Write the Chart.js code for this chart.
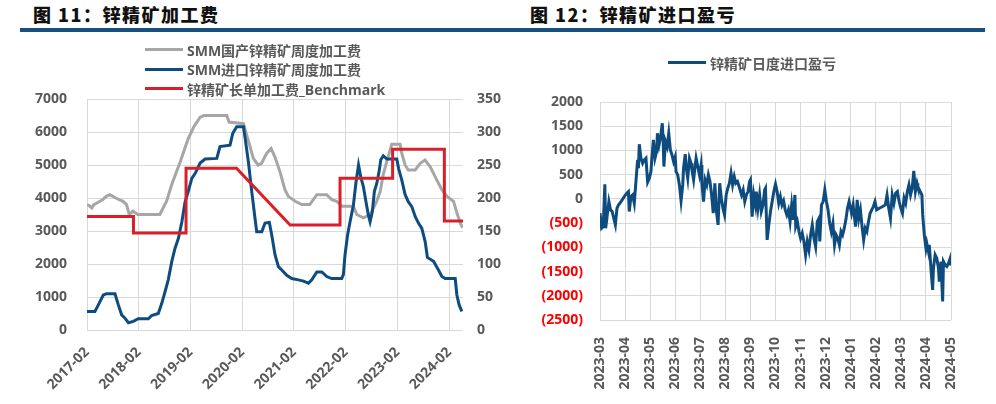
<!DOCTYPE html>
<html><head><meta charset="utf-8">
<script src="https://cdn.jsdelivr.net/npm/chart.js@4.4.1/dist/chart.umd.min.js"></script>
<style>
body{margin:0;width:996px;height:404px;background:#fff;position:relative;overflow:hidden;font-family:'Open Sans','Noto Sans CJK SC',sans-serif;}
.title{position:absolute;top:1px;font-family:'Noto Sans CJK SC',sans-serif;font-weight:900;font-size:18px;letter-spacing:1.5px;color:#111;white-space:nowrap;line-height:26px}
.bar{position:absolute;top:28px;height:4px;background:#17507F}
.wrap{position:absolute;top:0;height:404px}
.legend{position:absolute;font-weight:700;font-size:14px;color:#595959;white-space:nowrap;font-family:'Open Sans','Noto Sans CJK SC',sans-serif}
.item{display:flex;align-items:center;height:19.6px}
.swatch{display:inline-block;width:38px;height:3px;margin-right:4px}
</style></head>
<body>
<div class="title" style="left:33px">图 11：锌精矿加工费</div>
<div class="bar" style="left:20px;width:480px"></div>
<div class="title" style="left:530px">图 12：锌精矿进口盈亏</div>
<div class="bar" style="left:500px;width:485px"></div>
<div class="wrap" style="left:0;width:520px"><canvas id="c1" width="520" height="404"></canvas></div>
<div class="wrap" style="left:520px;width:476px"><canvas id="c2" width="476" height="404"></canvas></div>
<div class="legend" id="leg1" style="left:145px;top:40px"></div>
<div class="legend" id="leg2" style="left:668px;top:53px"></div>
<script>
// ---------- Chart 11 data ----------
const feeBase = '2017-02';
const feeTickLabels = ['2017-02','2018-02','2019-02','2020-02','2021-02','2022-02','2023-02','2024-02'];
const feeEnd = '2024-05-07';

const domesticDates = ['2017-02-01','2017-02-20','2017-03-05','2017-03-20','2017-04-10','2017-05-01','2017-05-22','2017-06-15','2017-07-10','2017-08-01','2017-08-22','2017-09-15','2017-10-12','2017-11-06','2017-11-25','2017-12-22','2018-01-25','2018-06-28','2018-08-15','2018-09-20','2018-10-25','2018-11-20','2018-12-22','2019-01-16','2019-02-22','2019-04-08','2019-05-05','2019-10-14','2019-10-30','2020-02-10','2020-03-03','2020-04-18','2020-05-22','2020-06-15','2020-07-21','2020-08-22','2020-09-18','2020-10-24','2020-11-28','2020-12-22','2021-02-09','2021-03-26','2021-05-22','2021-07-10','2021-09-18','2021-10-25','2021-11-28','2022-01-03','2022-03-25','2022-04-18','2022-06-03','2022-07-22','2022-09-06','2022-10-01','2022-10-22','2022-11-16','2022-12-10','2022-12-22','2023-02-18','2023-03-01','2023-03-25','2023-04-16','2023-06-04','2023-07-10','2023-08-13','2023-09-18','2023-11-04','2023-12-10','2024-01-16','2024-03-01','2024-03-25','2024-04-22','2024-05-06'];
const domesticFee = [3800,3750,3700,3800,3850,3900,3950,4050,4100,4050,4000,3950,3900,3800,3500,3600,3500,3500,3900,4400,4800,5100,5500,5800,6150,6450,6500,6500,6300,6250,5900,5200,5000,5050,5350,5500,5250,4800,4250,4050,3900,3800,3800,4100,4100,3950,3900,3750,3750,3500,3400,3500,3900,4200,4700,5100,5450,5630,5630,5350,5000,4850,4850,5050,5150,4950,4550,4250,4050,3900,3550,3200,3100];

const importDates = ['2017-02-01','2017-03-27','2017-04-20','2017-05-25','2017-06-18','2017-08-16','2017-09-09','2017-10-02','2017-10-26','2017-11-19','2017-12-24','2018-01-28','2018-04-08','2018-05-01','2018-06-17','2018-07-11','2018-08-04','2018-08-27','2018-09-21','2018-10-14','2018-11-07','2018-12-01','2018-12-24','2019-01-16','2019-02-10','2019-03-03','2019-04-08','2019-05-13','2019-08-04','2019-08-27','2019-11-06','2019-11-25','2019-12-23','2020-02-09','2020-02-21','2020-03-14','2020-04-07','2020-04-30','2020-05-12','2020-06-17','2020-07-10','2020-08-10','2020-08-27','2020-09-19','2020-10-13','2020-11-06','2020-12-11','2021-01-16','2021-03-02','2021-04-07','2021-05-12','2021-06-05','2021-07-10','2021-08-15','2021-09-19','2021-10-24','2022-01-03','2022-01-15','2022-01-27','2022-02-13','2022-03-01','2022-03-25','2022-04-13','2022-04-30','2022-05-16','2022-06-04','2022-06-22','2022-07-09','2022-07-21','2022-08-06','2022-08-21','2022-09-07','2022-09-23','2022-10-05','2022-10-23','2022-11-17','2023-01-27','2023-02-08','2023-03-01','2023-03-25','2023-04-17','2023-05-11','2023-06-04','2023-06-27','2023-07-21','2023-08-14','2023-08-30','2023-10-12','2023-11-16','2023-12-10','2024-01-03','2024-03-13','2024-03-25','2024-04-10','2024-04-29'];
const importFee = [28,28,38,53,55,55,38,23,18,11,13,17,17,22,25,40,58,76,104,124,139,164,194,210,230,237,253,259,260,278,280,298,308,308,290,255,210,169,149,149,162,163,144,114,96,91,83,78,76,74,71,76,88,88,81,78,78,84,114,144,164,189,225,250,232,217,194,174,164,179,210,222,240,258,264,259,259,245,227,205,194,187,172,162,154,134,110,104,91,81,78,78,53,38,28];

const benchmarkDates = ['2017-02-01','2017-12-25','2017-12-25','2018-12-31','2018-12-31','2019-12-22','2021-01-04','2021-12-22','2021-12-22','2022-12-28','2022-12-28','2023-12-28','2023-12-28','2024-05-07'];
const benchmarkFee = [172,172,147,147,245,245,159,159,230,230,274,274,165,165];

// ---------- Chart 12 data ----------
const profitBase = '2023-03';
const profitTickLabels = ['2023-03','2023-04','2023-05','2023-06','2023-07','2023-08','2023-09','2023-10','2023-11','2023-12','2024-01','2024-02','2024-03','2024-04','2024-05'];
const profitDates = ['2023-03-01','2023-03-03','2023-03-05','2023-03-07','2023-03-08','2023-03-10','2023-03-12','2023-03-14','2023-03-16','2023-03-18','2023-03-20','2023-03-22','2023-03-24','2023-03-27','2023-03-31',
'2023-04-03','2023-04-05','2023-04-06','2023-04-08','2023-04-10','2023-04-12','2023-04-14','2023-04-16','2023-04-17','2023-04-18','2023-04-20','2023-04-22','2023-04-24','2023-04-26','2023-04-28','2023-04-30',
'2023-05-02','2023-05-03','2023-05-05','2023-05-07','2023-05-09','2023-05-10','2023-05-12','2023-05-14','2023-05-16','2023-05-17','2023-05-18','2023-05-20','2023-05-22','2023-05-24','2023-05-26','2023-05-28','2023-05-30',
'2023-06-01','2023-06-02','2023-06-04','2023-06-06','2023-06-08','2023-06-10','2023-06-11','2023-06-13','2023-06-14','2023-06-16','2023-06-18','2023-06-20','2023-06-21','2023-06-23','2023-06-25','2023-06-26','2023-06-28','2023-06-30',
'2023-07-02','2023-07-03','2023-07-05','2023-07-07','2023-07-09','2023-07-11','2023-07-13','2023-07-15','2023-07-17','2023-07-19','2023-07-21','2023-07-23','2023-07-25','2023-07-27','2023-07-29','2023-07-31',
'2023-08-02','2023-08-04','2023-08-06','2023-08-08','2023-08-10','2023-08-12','2023-08-14','2023-08-16','2023-08-18','2023-08-21','2023-08-23','2023-08-25','2023-08-27','2023-08-29','2023-08-31',
'2023-09-01','2023-09-03','2023-09-05','2023-09-07','2023-09-08','2023-09-10','2023-09-12','2023-09-14','2023-09-16','2023-09-18','2023-09-19','2023-09-21','2023-09-23','2023-09-25','2023-09-27','2023-09-29',
'2023-10-01','2023-10-03','2023-10-05','2023-10-07','2023-10-09','2023-10-11','2023-10-13','2023-10-15','2023-10-17','2023-10-19','2023-10-21','2023-10-23','2023-10-25','2023-10-26','2023-10-28','2023-10-30',
'2023-11-01','2023-11-03','2023-11-05','2023-11-07','2023-11-09','2023-11-11','2023-11-13','2023-11-15','2023-11-17','2023-11-19','2023-11-21','2023-11-23','2023-11-24','2023-11-26','2023-11-28','2023-11-30',
'2023-12-02','2023-12-04','2023-12-06','2023-12-08','2023-12-10','2023-12-12','2023-12-14','2023-12-16','2023-12-18','2023-12-20','2023-12-22','2023-12-24','2023-12-26','2023-12-28','2023-12-30',
'2024-01-02','2024-01-04','2024-01-06','2024-01-07','2024-01-09','2024-01-11','2024-01-13','2024-01-15','2024-01-17','2024-01-19','2024-01-21','2024-01-23','2024-01-25','2024-01-27','2024-01-29','2024-01-31',
'2024-02-02','2024-02-05','2024-02-09','2024-02-12','2024-02-14','2024-02-16','2024-02-18','2024-02-20','2024-02-22','2024-02-24','2024-02-26','2024-02-28',
'2024-03-01','2024-03-03','2024-03-05','2024-03-07','2024-03-09','2024-03-11','2024-03-13','2024-03-15','2024-03-17','2024-03-19','2024-03-21','2024-03-22','2024-03-24','2024-03-27','2024-03-28','2024-03-30',
'2024-04-01','2024-04-02','2024-04-04','2024-04-05','2024-04-07','2024-04-09','2024-04-10','2024-04-12','2024-04-14','2024-04-16','2024-04-17','2024-04-19','2024-04-21','2024-04-22','2024-04-24','2024-04-26','2024-04-28','2024-04-30','2024-05-01'];
const profitValues = [-296,-605,-570,300,-605,-330,-55,-227,-260,-400,-537,-193,-124,-55,48,
117,150,-260,48,82,-90,358,805,633,1128,840,736,805,840,344,426,
564,805,1218,840,977,1355,1115,1287,1562,1252,667,1183,1080,1355,1011,908,770,
874,564,495,289,-41,289,633,922,667,426,840,736,598,392,701,840,667,495,
701,323,-55,392,289,495,358,82,-296,323,-260,-537,323,14,-193,-330,
82,220,323,530,289,461,323,358,255,82,186,-55,82,151,358,
392,-365,82,-124,151,-193,82,-261,-124,186,220,-846,-537,-261,-55,151,
303,151,-89,48,-124,-41,-227,-330,-227,-468,-124,-433,82,-571,-468,-674,
-812,-708,-880,-1156,-880,-1053,-743,-537,-812,-984,-468,-399,-880,-124,-55,186,
-55,-227,-502,-674,-502,-949,-743,-812,-949,-674,-743,-605,-433,-193,-55,
-296,-124,-433,-571,-21,-399,-227,-571,-846,-605,-674,-468,-296,-227,-158,-55,
-227,-193,-158,-124,82,-193,-399,82,-89,117,151,-55,
-193,-296,14,-89,151,289,82,220,578,151,323,255,186,82,-330,-743,
-1018,-915,-1087,-949,-1430,-1878,-1430,-1156,-1225,-1430,-1706,-1293,-2119,-1293,-1362,-1396,-1327,-1225,-1376];

// ---------- helpers ----------
function monthsSince(d, base){
  const p = d.split('-').map(Number);
  const b = base.split('-').map(Number);
  const day = p[2] || 1;
  const dim = new Date(p[0], p[1], 0).getDate();
  return (p[0]-b[0])*12 + (p[1]-b[1]) + (day-1)/dim;
}
function series(dates, vals, base){ return dates.map((d,i)=>({x: monthsSince(d, base), y: vals[i]})); }
function labelAt(v, labels, base){
  const hit = labels.find(l => Math.abs(monthsSince(l, base) - v) < 1e-6);
  return hit || '';
}

const GRID = '#D9D9D9', TXT = '#595959';
const FONT = {family:"'Open Sans','Noto Sans CJK SC',sans-serif", size:14, weight:'bold'};
const C_GREY = '#A6A6A6', C_BLUE = '#0E4C7F', C_RED = '#D7202A';

// ---------- Chart 11 ----------
const ds1 = [
  {label:'SMM国产锌精矿周度加工费', data:series(domesticDates, domesticFee, feeBase), borderColor:C_GREY, yAxisID:'y', order:3},
  {label:'SMM进口锌精矿周度加工费', data:series(importDates, importFee, feeBase), borderColor:C_BLUE, yAxisID:'y1', order:2},
  {label:'锌精矿长单加工费_Benchmark', data:series(benchmarkDates, benchmarkFee, feeBase), borderColor:C_RED, yAxisID:'y1', order:1}
];
new Chart(document.getElementById('c1'), {
  type:'line',
  data:{datasets:ds1},
  options:{
    responsive:false, animation:false,
    elements:{point:{radius:0}, line:{borderWidth:3, tension:0, fill:false}},
    layout:{padding:{top:99, left:0, right:0, bottom:0}},
    plugins:{legend:{display:false}, tooltip:{enabled:false}},
    scales:{
      x:{type:'linear', min:0, max:monthsSince(feeEnd, feeBase),
        afterBuildTicks: ax => { ax.ticks = feeTickLabels.map(l => ({value: monthsSince(l, feeBase)})); },
        afterFit: ax => { ax.height = 74; },
        grid:{color:GRID, lineWidth:1, drawTicks:false},
        border:{display:false},
        ticks:{autoSkip:false, minRotation:45, maxRotation:45, padding:14, color:TXT, font:FONT,
          callback: v => labelAt(v, feeTickLabels, feeBase)}
      },
      y:{position:'left', min:0, max:7000,
        afterFit: ax => { ax.width = 87; },
        grid:{color:GRID, lineWidth:1, drawTicks:false},
        border:{display:false},
        ticks:{stepSize:1000, padding:20, color:TXT, font:FONT, callback: v => String(v)}
      },
      y1:{position:'right', min:0, max:350,
        afterFit: ax => { ax.width = 57; },
        grid:{display:false, drawTicks:false},
        border:{display:false},
        ticks:{stepSize:50, padding:14, color:TXT, font:FONT, callback: v => String(v)}
      }
    }
  }
});

// ---------- Chart 12 ----------
const ds2 = [
  {label:'锌精矿日度进口盈亏', data:series(profitDates, profitValues, profitBase), borderColor:C_BLUE}
];
new Chart(document.getElementById('c2'), {
  type:'line',
  data:{datasets:ds2},
  options:{
    responsive:false, animation:false,
    elements:{point:{radius:0}, line:{borderWidth:3, tension:0, fill:false}},
    layout:{padding:{top:102, left:0, right:45, bottom:0}},
    plugins:{legend:{display:false}, tooltip:{enabled:false}},
    scales:{
      x:{type:'linear', min:0, max:monthsSince(profitTickLabels[profitTickLabels.length-1], profitBase),
        afterBuildTicks: ax => { ax.ticks = profitTickLabels.map(l => ({value: monthsSince(l, profitBase)})); },
        afterFit: ax => { ax.height = 84; },
        grid:{color:GRID, lineWidth:1, drawTicks:false},
        border:{display:false},
        ticks:{autoSkip:false, minRotation:90, maxRotation:90, padding:17, color:TXT, font:FONT,
          callback: v => labelAt(v, profitTickLabels, profitBase)}
      },
      y:{position:'left', min:-2500, max:2000,
        afterFit: ax => { ax.width = 80; },
        grid:{color:GRID, lineWidth:1, drawTicks:false},
        border:{display:false},
        ticks:{stepSize:500, padding:17, font:FONT,
          color: ctx => (ctx.tick && ctx.tick.value < 0) ? '#FF0000' : TXT,
          callback: v => v < 0 ? '(' + Math.abs(v) + ')' : String(v)}
      }
    }
  }
});

// ---------- HTML legends built from the datasets ----------
function buildLegend(el, datasets){
  datasets.forEach(d => {
    const row = document.createElement('div'); row.className = 'item';
    const sw = document.createElement('span'); sw.className = 'swatch'; sw.style.background = d.borderColor;
    const tx = document.createElement('span'); tx.textContent = d.label;
    row.appendChild(sw); row.appendChild(tx); el.appendChild(row);
  });
}
buildLegend(document.getElementById('leg1'), ds1);
buildLegend(document.getElementById('leg2'), ds2);
</script>
</body></html>
